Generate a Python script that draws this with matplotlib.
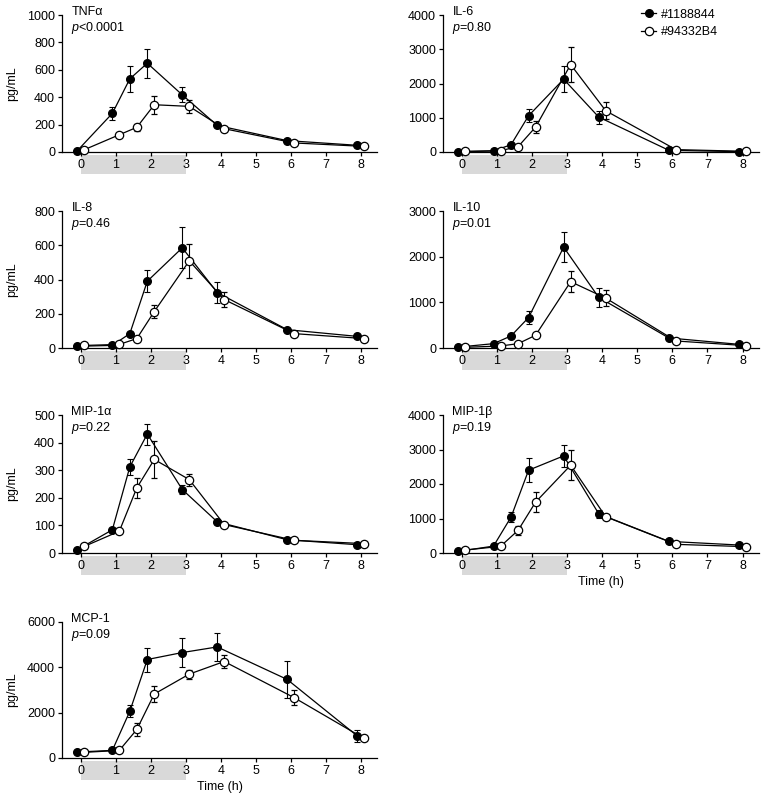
import matplotlib
matplotlib.use("Agg")
import matplotlib.pyplot as plt
from matplotlib.patches import Rectangle
import matplotlib.transforms as mtransforms
from matplotlib.lines import Line2D

plt.rcParams['font.family'] = ['Liberation Sans', 'DejaVu Sans']
plt.rcParams['mathtext.fontset'] = 'custom'
plt.rcParams['mathtext.it'] = 'Liberation Sans:italic'
plt.rcParams['mathtext.rm'] = 'Liberation Sans'
plt.rcParams['font.size'] = 9

times = [0, 1, 1.5, 2, 3, 4, 6, 8]
series_names = ["#1188844", "#94332B4"]
panel_names = ["TNFα", "IL-6", "IL-8", "IL-10", "MIP-1α", "MIP-1β", "MCP-1"]
p_texts = ["<0.0001", "=0.80", "=0.46", "=0.01", "=0.22", "=0.19", "=0.09"]
y_max = [1000, 4000, 800, 3000, 500, 4000, 6000]
y_step = [200, 1000, 200, 1000, 100, 1000, 2000]

# filled series (#1188844) and open series (#94332B4): mean and error
tnf_a = [10, 282, 534, 648, 417, 194, 83, 49]
tnf_a_err = [0, 45, 95, 105, 55, 10, 5, 5]
tnf_b = [17, 126, 180, 345, 333, 170, 66, 41]
tnf_b_err = [0, 5, 25, 65, 50, 8, 5, 3]

il6_a = [5, 30, 214, 1058, 2126, 1020, 50, 10]
il6_a_err = [0, 10, 30, 190, 380, 190, 10, 5]
il6_b = [20, 40, 155, 728, 2553, 1204, 70, 20]
il6_b_err = [0, 10, 30, 170, 520, 250, 10, 5]

il8_a = [10, 15, 84, 390, 585, 324, 107, 68]
il8_a_err = [0, 3, 10, 65, 120, 60, 8, 5]
il8_b = [15, 21, 55, 213, 509, 283, 84, 55]
il8_b_err = [0, 3, 8, 40, 100, 45, 6, 5]

il10_a = [20, 95, 264, 667, 2208, 1108, 220, 80]
il10_a_err = [0, 15, 30, 140, 330, 210, 25, 10]
il10_b = [15, 44, 95, 279, 1452, 1093, 154, 51]
il10_b_err = [0, 8, 15, 30, 230, 170, 20, 8]

mip1a_a = [12, 84, 312, 431, 230, 113, 48, 30]
mip1a_a_err = [0, 5, 30, 38, 18, 6, 4, 3]
mip1a_b = [24, 79, 236, 339, 266, 103, 46, 34]
mip1a_b_err = [0, 5, 36, 68, 22, 6, 4, 3]

mip1b_a = [48, 200, 1041, 2400, 2815, 1137, 337, 231]
mip1b_a_err = [0, 20, 145, 350, 320, 110, 30, 20]
mip1b_b = [87, 193, 655, 1475, 2545, 1051, 251, 183]
mip1b_b_err = [0, 20, 125, 300, 430, 60, 25, 20]

mcp1_a = [263, 336, 2063, 4345, 4652, 4900, 3467, 980]
mcp1_a_err = [0, 30, 260, 530, 630, 630, 800, 260]
mcp1_b = [249, 336, 1258, 2823, 3701, 4257, 2663, 863]
mcp1_b_err = [0, 30, 280, 350, 200, 280, 330, 60]

data_a = [tnf_a, il6_a, il8_a, il10_a, mip1a_a, mip1b_a, mcp1_a]
err_a = [tnf_a_err, il6_a_err, il8_a_err, il10_a_err, mip1a_a_err, mip1b_a_err, mcp1_a_err]
data_b = [tnf_b, il6_b, il8_b, il10_b, mip1a_b, mip1b_b, mcp1_b]
err_b = [tnf_b_err, il6_b_err, il8_b_err, il10_b_err, mip1a_b_err, mip1b_b_err, mcp1_b_err]

W, H = 762, 802
fig = plt.figure(figsize=(W / 100, H / 100), dpi=100)

cols = [(62, 377), (443, 759)]
rows = [(15, 152), (211, 348), (415, 553), (622, 758)]

offset = 0.1
for i in range(7):
    r, c = divmod(i, 2)
    x0, x1 = cols[c]
    t0, b0 = rows[r]
    ax = fig.add_axes([x0 / W, 1 - b0 / H, (x1 - x0) / W, (b0 - t0) / H])
    ax.set_xlim(-0.54, 8.47)
    ax.set_ylim(0, y_max[i])
    ax.spines['top'].set_visible(False)
    ax.spines['right'].set_visible(False)
    for s in ['left', 'bottom']:
        ax.spines[s].set_linewidth(0.9)
    ax.set_xticks(range(0, 9))
    ax.set_yticks(range(0, y_max[i] + 1, y_step[i]))
    ax.tick_params(axis='both', direction='out', length=3, width=0.9, labelsize=9, pad=2)

    # shaded exposure period below the axis
    trans = mtransforms.blended_transform_factory(ax.transData, ax.transAxes)
    ax.add_patch(Rectangle((0, -0.16), 3, 0.138, transform=trans, facecolor='#d9d9d9',
                           edgecolor='none', clip_on=False, zorder=0))

    xa = [t - offset for t in times]
    xb = [t + offset for t in times]
    ax.errorbar(xa, data_a[i], yerr=err_a[i], color='black', lw=0.9, marker='o', ms=5.5,
                mfc='black', mec='black', capsize=2.5, elinewidth=0.8, capthick=0.8,
                clip_on=False, zorder=3)
    ax.errorbar(xb, data_b[i], yerr=err_b[i], color='black', lw=0.9, marker='o', ms=6,
                mfc='white', mec='black', mew=0.9, capsize=2.5, elinewidth=0.8, capthick=0.8,
                clip_on=False, zorder=4)

    ax.text(0.03, 1.02, panel_names[i], transform=ax.transAxes, ha='left', va='center', fontsize=9)
    ax.text(0.03, 0.905, r"$\mathit{p}$" + p_texts[i], transform=ax.transAxes, ha='left',
            va='center', fontsize=9)

    if c == 0:
        ax.set_ylabel("pg/mL", fontsize=9)
        ax.yaxis.set_label_coords(-0.14, 0.5)
    if i in (5, 6):
        ax.set_xlabel("Time (h)", fontsize=9, labelpad=3)
    if i == 1:
        handles = [Line2D([], [], color='black', lw=0.9, marker='o', ms=5.5, mfc='black', mec='black'),
                   Line2D([], [], color='black', lw=0.9, marker='o', ms=6, mfc='white', mec='black', mew=0.9)]
        ax.legend(handles, series_names, loc='upper left', bbox_to_anchor=(0.6, 1.11),
                  frameon=False, handlelength=1.2, handletextpad=0.4, labelspacing=0.45,
                  fontsize=9, borderpad=0.2)

fig.savefig("out.png", dpi=100)
